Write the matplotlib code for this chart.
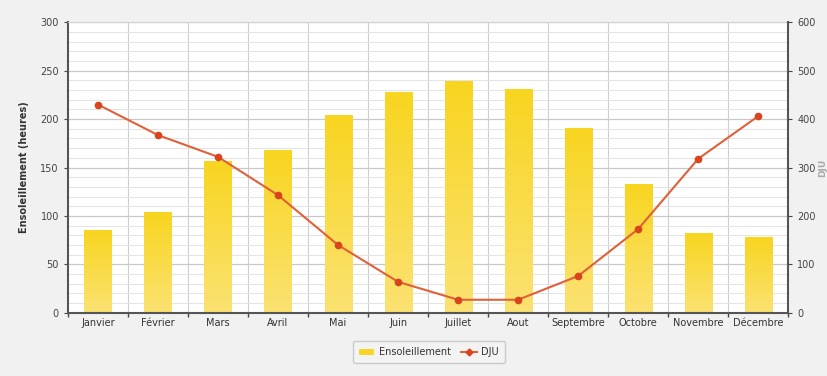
import matplotlib.pyplot as plt
import numpy as np
from matplotlib.colors import LinearSegmentedColormap
from matplotlib.patches import Rectangle, Patch
from matplotlib.lines import Line2D

# Données mensuelles
mois = ['Janvier', 'Février', 'Mars', 'Avril', 'Mai', 'Juin', 'Juillet',
        'Aout', 'Septembre', 'Octobre', 'Novembre', 'Décembre']
ensoleillement = [86, 104, 157, 168, 204, 228, 239, 231, 191, 133, 82, 78]
dju = [430, 367, 322, 243, 140, 64, 27, 27, 76, 173, 318, 406]

fig = plt.figure(figsize=(8.28, 3.76), dpi=100, facecolor='#f1f1f1')
ax = fig.add_axes([0.082, 0.168, 0.870, 0.773])
ax.set_facecolor('white')

x = np.arange(len(mois))
largeur = 0.45

# Barres avec dégradé jaune
cmap = LinearSegmentedColormap.from_list('jaune', ['#fbe272', '#f8d520'])
grad = np.linspace(0, 1, 100).reshape(-1, 1)
for xi, v in zip(x, ensoleillement):
    rect = Rectangle((xi - largeur / 2, 0), largeur, v, facecolor='none', edgecolor='none')
    ax.add_patch(rect)
    im = ax.imshow(grad, cmap=cmap, origin='lower', aspect='auto',
                   extent=(xi - largeur / 2, xi + largeur / 2, 0, v), zorder=2)
    im.set_clip_path(rect)

ax.set_xlim(-0.5, len(mois) - 0.5)
ax.set_ylim(0, 300)
ax.set_yticks(range(0, 301, 50))
ax.set_yticks(range(0, 301, 10), minor=True)
ax.grid(axis='y', which='major', color='#c8c8c8', lw=0.9, zorder=0)
ax.grid(axis='y', which='minor', color='#e4e4e4', lw=0.7, zorder=0)
for b in np.arange(0.5, len(mois) - 0.5, 1):
    ax.axvline(b, color='#cfcfcf', lw=0.8, zorder=0)

ax.set_xticks(x)
ax.set_xticklabels(mois, fontsize=7, color='#333333')
ax.set_xticks(np.arange(-0.5, len(mois), 1), minor=True)
ax.tick_params(axis='x', which='major', length=0, pad=4)
ax.tick_params(axis='x', which='minor', length=3, width=1, color='#444444')
ax.tick_params(axis='y', which='major', labelsize=7, length=3, color='#444444', labelcolor='#444444')
ax.tick_params(axis='y', which='minor', length=0)
ax.set_ylabel('Ensoleillement (heures)', fontsize=7, fontweight='bold', color='#333333', labelpad=8)

for s in ['left', 'bottom']:
    ax.spines[s].set_color('#555555')
    ax.spines[s].set_linewidth(1.5)
ax.spines['top'].set_color('#d0d0d0')
ax.spines['right'].set_visible(False)

# Axe secondaire pour les DJU
ax2 = ax.twinx()
ax2.plot(x, dju, color='#e0603a', lw=1.5, marker='o', markersize=4.5,
         markerfacecolor='#d9441c', markeredgecolor='#d9441c', zorder=5)
ax2.set_ylim(0, 600)
ax2.set_yticks(range(0, 601, 100))
ax2.tick_params(axis='y', labelsize=7, length=3, color='#444444', labelcolor='#444444')
ax2.spines['right'].set_color('#555555')
ax2.spines['right'].set_linewidth(1.5)
for s in ['left', 'top', 'bottom']:
    ax2.spines[s].set_visible(False)
ax2.set_ylabel('DJU', fontsize=6.5, fontweight='bold', color='#aaaaaa')
ax2.yaxis.set_label_coords(1.042, 0.5)

# Légende
handles = [Patch(facecolor='#f8d52a', edgecolor='none', label='Ensoleillement'),
           Line2D([0], [0], color='#e0603a', lw=1.5, marker='D', markersize=3.5,
                  markerfacecolor='#d9441c', markeredgecolor='#d9441c', label='DJU')]
leg = fig.legend(handles=handles, loc='center', bbox_to_anchor=(0.518, 0.063), ncol=2,
                 fontsize=7, frameon=True, handlelength=1.6, handletextpad=0.5,
                 columnspacing=1.0, borderpad=0.6)
leg.get_frame().set_edgecolor('#c0c0c0')
leg.get_frame().set_facecolor('#f4f4f4')
for t in leg.get_texts():
    t.set_color('#333333')

fig.savefig('out.png', dpi=100, facecolor=fig.get_facecolor())
